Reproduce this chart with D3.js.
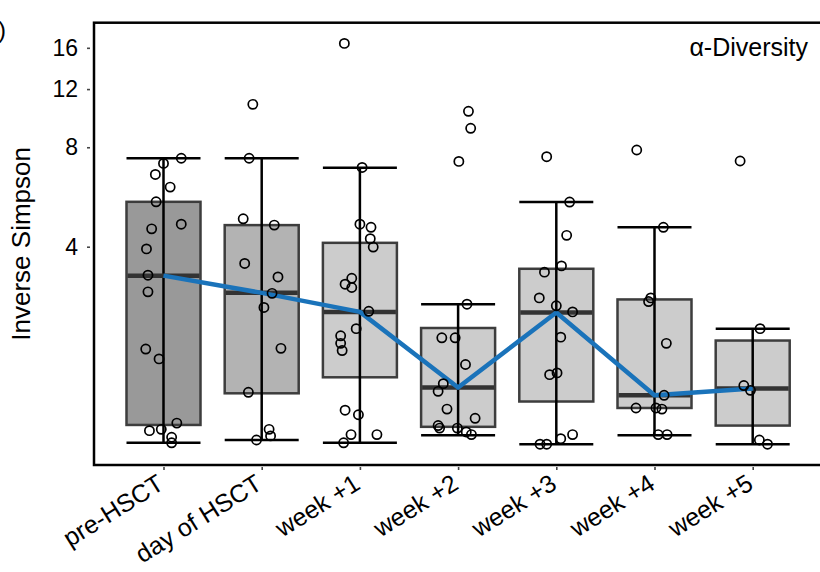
<!DOCTYPE html>
<html>
<head>
<meta charset="utf-8">
<script src="https://cdn.jsdelivr.net/npm/d3@7"></script>
<style>
  body { margin: 0; background: #fff; }
  svg { display: block; font-family: Arial, "Liberation Sans", sans-serif; }
</style>
</head>
<body>
<svg id="chart" width="820" height="572"></svg>
<script>
// Time points
const categories = ["pre-HSCT", "day of HSCT", "week +1", "week +2", "week +3", "week +4", "week +5"];

// Box summaries (inverse Simpson)
const whiskerHigh = [7.41, 7.41, 6.94, 2.68, 5.46, 4.58, 2.26];
const q3          = [5.47, 4.65, 4.11, 2.27, 3.43, 2.77, 2.08];
const median      = [3.27, 2.90, 2.54, 1.50, 2.53, 1.42, 1.49];
const q1          = [1.155, 1.44, 1.61, 1.14, 1.36, 1.30, 1.15];
const whiskerLow  = [1.02, 1.04, 1.02, 1.075, 1.01, 1.075, 1.01];

// Individual samples per time point
const samples = [
  [7.15, 7.41, 6.62, 6.06, 5.47, 4.68, 4.53, 3.94, 3.28, 2.92, 1.96, 1.83, 1.17, 1.12, 1.11, 1.06, 1.02],
  [10.79, 7.41, 4.86, 4.65, 3.56, 3.24, 2.89, 2.62, 1.97, 1.45, 1.12, 1.07, 1.04],
  [16.5, 6.95, 4.68, 4.58, 4.23, 3.99, 3.21, 3.08, 3.01, 2.55, 2.26, 2.15, 2.04, 1.94, 1.28, 1.24, 1.08, 1.08, 1.02],
  [10.28, 9.13, 7.25, 2.68, 2.12, 2.12, 1.76, 1.54, 1.46, 1.29, 1.21, 1.15, 1.13, 1.13, 1.10, 1.08],
  [7.49, 5.46, 4.33, 3.50, 3.35, 2.80, 2.65, 2.54, 2.13, 1.64, 1.66, 1.08, 1.05, 1.01, 1.01],
  [7.85, 4.58, 2.80, 2.73, 2.04, 1.42, 1.30, 1.30, 1.29, 1.08, 1.08],
  [7.27, 2.26, 1.52, 1.47, 1.04, 1.01]
];

// Horizontal jitter of each sample, as a fraction of the box width
const jitter = [
  [0, 0.24, -0.11, 0.09, -0.10, 0.24, -0.16, -0.23, -0.21, -0.21, -0.24, -0.06, 0.18, -0.03, -0.19, 0.11, 0.11],
  [-0.12, -0.17, -0.25, 0.17, -0.23, 0.22, 0.14, 0.03, 0.26, -0.18, 0.10, 0.12, -0.07],
  [-0.21, 0.03, 0.00, 0.15, 0.14, 0.18, -0.11, -0.20, -0.11, 0.12, -0.05, -0.26, -0.26, -0.24, -0.20, -0.02, -0.12, 0.23, -0.22],
  [0.14, 0.17, 0.01, 0.12, -0.22, -0.04, 0.10, -0.20, -0.27, -0.15, 0.23, -0.27, -0.25, -0.01, 0.11, 0.18],
  [-0.13, 0.18, 0.14, 0.07, -0.16, -0.23, 0.00, 0.22, 0.06, -0.09, 0.01, 0.22, 0.06, -0.22, -0.13],
  [-0.24, 0.12, -0.05, -0.08, 0.16, 0.13, -0.25, 0.02, 0.10, 0.05, 0.17],
  [-0.17, 0.10, -0.12, -0.03, 0.09, 0.20]
];

const yTicks = [4, 8, 12, 16];

// Styling
const boxFills = ["#999999", "#b3b3b3", "#cccccc", "#cccccc", "#cccccc", "#cccccc", "#cccccc"];
const trendColor = "#1a73ba";

const plot = { left: 94, right: 823, top: 22.7, bottom: 465 };
const boxW = 74;

const svg = d3.select("#chart");

const x = d3.scalePoint().domain(categories).range([163.5, 752.7]);
const y = d3.scaleLog().domain([0.8737, 19.06]).range([plot.bottom, plot.top]);

// Boxes
const g = svg.append("g");
categories.forEach((c, i) => {
  const cx = x(c);
  g.append("rect")
    .attr("x", cx - boxW / 2).attr("y", y(q3[i]))
    .attr("width", boxW).attr("height", y(q1[i]) - y(q3[i]))
    .attr("fill", boxFills[i]).attr("stroke", "#3d3d3d").attr("stroke-width", 2.5);
  // whisker stem
  g.append("line")
    .attr("x1", cx).attr("x2", cx)
    .attr("y1", y(whiskerLow[i])).attr("y2", y(whiskerHigh[i]))
    .attr("stroke", "#000").attr("stroke-width", 2.5);
  // whisker caps
  [whiskerLow[i], whiskerHigh[i]].forEach(v => {
    g.append("line")
      .attr("x1", cx - boxW / 2).attr("x2", cx + boxW / 2)
      .attr("y1", y(v)).attr("y2", y(v))
      .attr("stroke", "#000").attr("stroke-width", 2.5);
  });
  // median
  g.append("line")
    .attr("x1", cx - boxW / 2 + 1).attr("x2", cx + boxW / 2 - 1)
    .attr("y1", y(median[i])).attr("y2", y(median[i]))
    .attr("stroke", "#333").attr("stroke-width", 4.5);
});

// Median trend
svg.append("path")
  .datum(categories.map((c, i) => [x(c), y(median[i])]))
  .attr("d", d3.line())
  .attr("fill", "none")
  .attr("stroke", trendColor)
  .attr("stroke-width", 4.5)
  .attr("stroke-linejoin", "round");

// Samples
categories.forEach((c, i) => {
  svg.append("g").selectAll("circle")
    .data(samples[i].map((v, j) => ({ v, j: jitter[i][j] })))
    .join("circle")
    .attr("cx", d => x(c) + d.j * boxW)
    .attr("cy", d => y(d.v))
    .attr("r", 4.6)
    .attr("fill", "none")
    .attr("stroke", "#000")
    .attr("stroke-width", 1.7);
});

// Frame
svg.append("rect")
  .attr("x", plot.left).attr("y", plot.top)
  .attr("width", plot.right - plot.left).attr("height", plot.bottom - plot.top)
  .attr("fill", "none").attr("stroke", "#000").attr("stroke-width", 2.5);

// Y axis
const yAxis = svg.append("g")
  .attr("transform", "translate(90,0)")
  .call(d3.axisLeft(y).tickValues(yTicks).tickFormat(d3.format("d")).tickSize(3).tickPadding(9));
yAxis.select(".domain").remove();
yAxis.selectAll(".tick line").attr("stroke", "#444").attr("stroke-width", 1.6);
yAxis.selectAll(".tick text")
  .attr("font-size", 23).attr("fill", "#000")
  .attr("font-family", "Arial, 'Liberation Sans', sans-serif");

// X axis
const xAxis = svg.append("g")
  .attr("transform", `translate(0,${plot.bottom + 2})`)
  .call(d3.axisBottom(x).tickSize(3).tickFormat(""));
xAxis.select(".domain").remove();
xAxis.selectAll(".tick line").attr("stroke", "#444").attr("stroke-width", 1.6);

svg.append("g").selectAll("text")
  .data(categories)
  .join("text")
  .attr("transform", d => `translate(${x(d) + 2},${488}) rotate(-32)`)
  .attr("text-anchor", "end")
  .attr("font-size", 25)
  .attr("fill", "#000")
  .text(d => d);

// Axis title
svg.append("text")
  .attr("transform", `translate(30,${(plot.top + plot.bottom) / 2}) rotate(-90)`)
  .attr("text-anchor", "middle")
  .attr("font-size", 26)
  .attr("fill", "#000")
  .text("Inverse Simpson");

// Panel annotation
svg.append("text")
  .attr("x", 808).attr("y", 56)
  .attr("text-anchor", "end")
  .attr("font-size", 25)
  .attr("fill", "#000")
  .text("α-Diversity");

svg.append("text")
  .attr("x", 6).attr("y", 38)
  .attr("text-anchor", "end")
  .attr("font-size", 24)
  .text(")");
</script>
</body>
</html>
